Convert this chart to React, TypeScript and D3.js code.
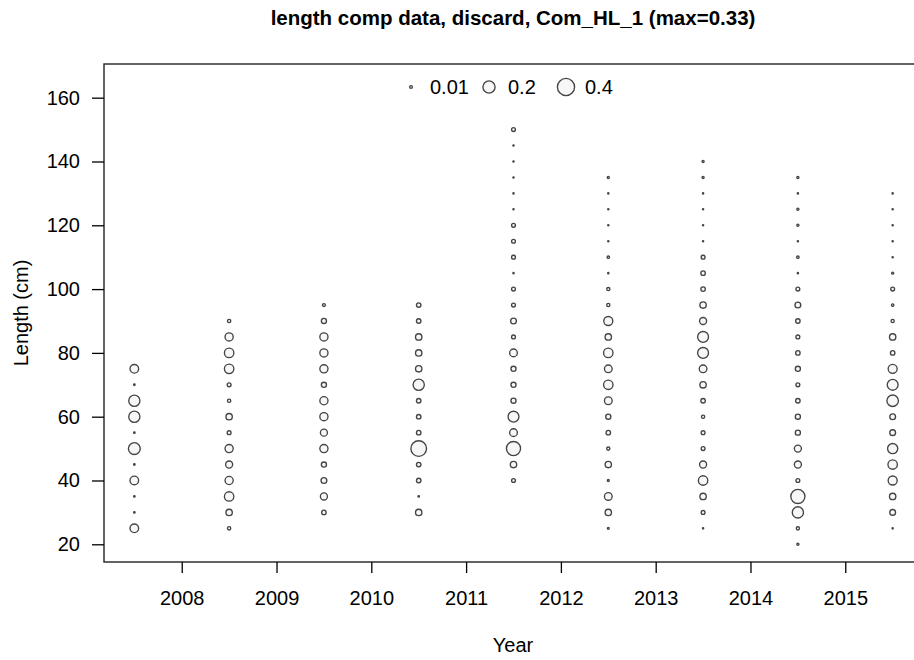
import React, { useEffect, useRef } from 'react'
import * as d3 from 'd3'

const width = 914
const height = 660
const plot = { left: 104, right: 923, top: 64, bottom: 562 }
const font = "'Liberation Sans', Arial, sans-serif"

// survey years (plotted mid-year) and the smallest length bin sampled each year
const years = [2007, 2008, 2009, 2010, 2011, 2012, 2013, 2014, 2015]
const firstBin = [25, 25, 30, 30, 40, 25, 25, 20, 25]
const binWidth = 5

// proportions by length bin, ascending from firstBin
const comp2007 = [0.1, 0.003, 0.003, 0.1, 0.003, 0.19, 0.003, 0.17, 0.17, 0.003, 0.1]
const comp2008 = [0.015, 0.055, 0.12, 0.09, 0.067, 0.09, 0.02, 0.055, 0.015, 0.02, 0.12, 0.12, 0.09, 0.015]
const comp2009 = [0.027, 0.067, 0.045, 0.035, 0.09, 0.067, 0.09, 0.09, 0.035, 0.09, 0.09, 0.09, 0.035, 0.012]
const comp2010 = [0.055, 0.003, 0.027, 0.027, 0.33, 0.027, 0.027, 0.027, 0.17, 0.055, 0.055, 0.055, 0.027, 0.027]
const comp2011 = [0.02, 0.055, 0.27, 0.08, 0.16, 0.035, 0.035, 0.035, 0.08, 0.02, 0.045, 0.02, 0.02, 0.002, 0.02, 0.02, 0.02, 0.002, 0.002, 0.002, 0.002, 0.002, 0.02]
const comp2012 = [0.005, 0.055, 0.08, 0.005, 0.055, 0.014, 0.027, 0.035, 0.08, 0.12, 0.08, 0.12, 0.055, 0.11, 0.014, 0.014, 0.002, 0.008, 0.002, 0.002, 0.002, 0.002, 0.006]
const comp2013 = [0.002, 0.02, 0.055, 0.12, 0.067, 0.02, 0.02, 0.014, 0.027, 0.055, 0.08, 0.16, 0.16, 0.067, 0.055, 0.027, 0.027, 0.02, 0.002, 0.002, 0.002, 0.002, 0.006, 0.006]
const comp2014 = [0.006, 0.014, 0.17, 0.27, 0.02, 0.067, 0.067, 0.035, 0.035, 0.027, 0.02, 0.035, 0.027, 0.02, 0.027, 0.045, 0.02, 0.002, 0.008, 0.002, 0.006, 0.006, 0.002, 0.006]
const comp2015 = [0.002, 0.045, 0.055, 0.11, 0.12, 0.14, 0.045, 0.045, 0.18, 0.16, 0.11, 0.027, 0.055, 0.014, 0.008, 0.02, 0.006, 0.002, 0.002, 0.002, 0.002, 0.002]
const comps = [comp2007, comp2008, comp2009, comp2010, comp2011, comp2012, comp2013, comp2014, comp2015]

const xTicks = [2008, 2009, 2010, 2011, 2012, 2013, 2014, 2015]
const yTicks = [20, 40, 60, 80, 100, 120, 140, 160]
const legendValues = [0.01, 0.2, 0.4]

type Point = { year: number, length: number, prop: number }

const points: Point[] = []
years.forEach((yr, i) => {
  comps[i].forEach((p, j) => {
    points.push({ year: yr + 0.5, length: firstBin[i] + j * binWidth, prop: p })
  })
})

const xScale = d3.scaleLinear().domain([2007.18, 2015.82]).range([plot.left, plot.right])
const yScale = d3.scaleLinear().domain([14.45, 170.56]).range([plot.bottom, plot.top])
const rScale = d3.scaleSqrt().domain([0, 1]).range([0, 13.6])

const BubblePlot = () => {
  const xAxis = useRef<SVGGElement>(null)
  const yAxis = useRef<SVGGElement>(null)

  useEffect(() => {
    const ax = d3.axisBottom(xScale).tickValues(xTicks).tickFormat(d3.format('d')).tickSize(11).tickPadding(18)
    const ay = d3.axisLeft(yScale).tickValues(yTicks).tickSize(12).tickPadding(12)
    const gx = d3.select(xAxis.current!).call(ax)
    const gy = d3.select(yAxis.current!).call(ay)
    ;[gx, gy].forEach(g => {
      g.select('.domain').remove()
      g.selectAll('line').attr('stroke', '#000').attr('stroke-width', 1.3)
      g.selectAll('text').attr('font-family', font).attr('font-size', 20).attr('fill', '#000')
    })
  }, [])

  const legendX = [411, 489, 566]

  return (
    <svg width={width} height={height} style={{ position: 'absolute', left: 0, top: 0 }}>
      <rect x={0} y={0} width={width} height={height} fill='#fff' />
      <text x={513} y={25} textAnchor='middle' fontFamily={font} fontWeight='bold' fontSize={20.5}>
        length comp data, discard, Com_HL_1 (max=0.33)
      </text>
      {points.map((d, i) => (
        <circle key={i} cx={xScale(d.year)} cy={yScale(d.length)} r={rScale(d.prop)}
          fill='#f7f7f7' stroke='#444' strokeWidth={1.35} />
      ))}
      {legendValues.map((v, i) => (
        <g key={v}>
          <circle cx={legendX[i]} cy={87} r={rScale(v)} fill='#f7f7f7' stroke='#444' strokeWidth={1.35} />
          <text x={legendX[i] + 19} y={87} dy='0.35em' fontFamily={font} fontSize={20}>{v}</text>
        </g>
      ))}
      <rect x={plot.left} y={plot.top} width={plot.right - plot.left} height={plot.bottom - plot.top}
        fill='none' stroke='#222' strokeWidth={1.4} />
      <g ref={xAxis} transform={`translate(0, ${plot.bottom})`}></g>
      <g ref={yAxis} transform={`translate(${plot.left}, 0)`}></g>
      <text x={513} y={652} textAnchor='middle' fontFamily={font} fontSize={20}>Year</text>
      <text transform={`translate(28, ${(plot.top + plot.bottom) / 2}) rotate(-90)`} textAnchor='middle'
        fontFamily={font} fontSize={20}>Length (cm)</text>
    </svg>
  )
}

export default function App() {
  return <BubblePlot />
}
